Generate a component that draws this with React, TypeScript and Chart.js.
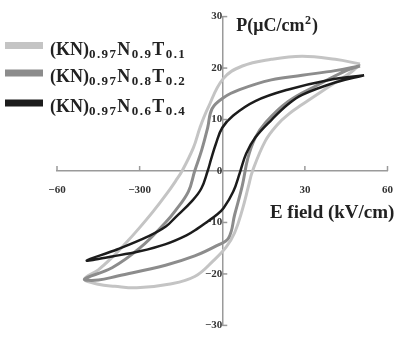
import React, { useEffect, useRef } from 'react';
import { Chart, registerables } from 'chart.js';

Chart.register(...registerables);

// Legend labels: alternating [main, subscript, main, subscript, ...]
const seriesLabels: string[][] = [
  ['(KN)', '0.97', 'N', '0.9', 'T', '0.1'],
  ['(KN)', '0.97', 'N', '0.8', 'T', '0.2'],
  ['(KN)', '0.97', 'N', '0.6', 'T', '0.4'],
];
const seriesColors = ['#c4c4c4', '#8c8c8c', '#1c1c1c'];

// (KN)0.97N0.9T0.1 loop: upper branch (+Emax -> -Emax), then lower branch back
const lightE = [50, 41, 29, 17.8, 7.3, 0.3, -5.3, -8.1, -10.5, -14.6, -17, -20, -25, -30, -35, -40, -45, -50, -45, -39, -31, -19.5, -10, -3, 1.4, 4.5, 7.3, 9.5, 11, 15.7, 20, 24, 29, 38.8, 47, 50];
const lightP = [20.8, 21.7, 22.3, 21.7, 20.4, 17.9, 12.1, 8.4, 4.5, 0, -2, -4.3, -7.8, -11, -14, -16.8, -19.2, -21, -22, -22.4, -22.7, -22, -20.5, -17.3, -14.8, -12, -7.5, -3, 0, 5.9, 9, 11, 12.9, 16.4, 19.3, 20.8];

// (KN)0.97N0.8T0.2
const midE = [50, 41, 29, 17.8, 6.3, 0.3, -3.7, -5.3, -7.5, -10, -12.3, -17, -20.6, -30, -40, -50, -45, -38, -20.6, -10, -2, 2.3, 4.5, 7.3, 9.3, 12, 15.4, 23.7, 35, 45, 50];
const midP = [20.4, 19.5, 18.6, 17.7, 15.8, 14.2, 12.1, 8.4, 4, 0, -4, -7.7, -10, -15, -18.8, -21, -21.2, -20.4, -18.3, -16.5, -14.5, -13, -8.5, -2.8, 2.5, 6.5, 9.2, 13.4, 16.8, 19.5, 20.4];

// (KN)0.97N0.6T0.4
const darkE = [51.5, 38.8, 23.7, 12, 4, 0, -2.3, -4.1, -5.3, -7.6, -11.1, -17, -20.5, -26.5, -38, -49.2, -40, -30, -20.5, -13, -9, -5.3, -2, 0.5, 4, 6.4, 8.7, 12, 18, 24, 29, 41, 51.5];
const darkP = [18.6, 17.7, 15.8, 13.6, 10.8, 8.4, 5.3, 2.2, 0, -3.4, -5.9, -9, -10.8, -12.6, -15.2, -17.4, -16.6, -15.6, -14.2, -12.5, -11.2, -9.8, -8.5, -7.2, -4, -0.3, 3.4, 6.5, 10, 13, 14.8, 17.2, 18.6];

const xTickValues = [-60, -30, 30, 60];
const xTickLabels = ['\u221260', '\u2212300', '30', '60'];
const yTickValues = [-30, -20, -10, 0, 10, 20, 30];
const yTickLabels = ['\u221230', '\u221220', '\u221210', '0', '10', '20', '30'];

const xTitle = 'E field (kV/cm)';
const yTitleParts = ['P(\u03bcC/cm', '2', ')'];

const SERIF = '"Liberation Serif", "Times New Roman", serif';
const AXIS_COLOR = '#9a9a9a';

const toPoints = (xs: number[], ys: number[]) => xs.map((x, i) => ({ x, y: ys[i] }));

const drawSpaced = (ctx: CanvasRenderingContext2D, text: string, x: number, y: number, spacing: number) => {
  let cx = x;
  for (const ch of text) {
    ctx.fillText(ch, cx, y);
    cx += ctx.measureText(ch).width + spacing;
  }
  return cx - x;
};

const overlayPlugin = {
  id: 'overlay',
  afterDraw(chart: any) {
    const ctx: CanvasRenderingContext2D = chart.ctx;
    const xs = chart.scales.x;
    const ys = chart.scales.y;
    const x0 = xs.getPixelForValue(0);
    const y0 = ys.getPixelForValue(0);
    ctx.save();
    // inward tick marks
    ctx.strokeStyle = AXIS_COLOR;
    ctx.lineWidth = 1.5;
    xs.ticks.forEach((t: any) => {
      if (t.value === 0) return;
      const px = xs.getPixelForValue(t.value);
      ctx.beginPath();
      ctx.moveTo(px, y0);
      ctx.lineTo(px, y0 - 5);
      ctx.stroke();
    });
    ys.ticks.forEach((t: any) => {
      if (t.value === 0) return;
      const py = ys.getPixelForValue(t.value);
      ctx.beginPath();
      ctx.moveTo(x0, py);
      ctx.lineTo(x0 + 5, py);
      ctx.stroke();
    });

    // axis titles
    ctx.fillStyle = '#222';
    ctx.textBaseline = 'alphabetic';
    ctx.textAlign = 'left';
    let tx = x0 + 14;
    const tyBase = ys.getPixelForValue(30) + 14;
    ctx.font = `bold 18px ${SERIF}`;
    ctx.fillText(yTitleParts[0], tx, tyBase);
    tx += ctx.measureText(yTitleParts[0]).width;
    ctx.font = `bold 12px ${SERIF}`;
    ctx.fillText(yTitleParts[1], tx + 0.5, tyBase - 7);
    tx += ctx.measureText(yTitleParts[1]).width + 1.5;
    ctx.font = `bold 18px ${SERIF}`;
    ctx.fillText(yTitleParts[2], tx, tyBase);

    ctx.font = `bold 19px ${SERIF}`;
    ctx.fillText(xTitle, xs.getPixelForValue(17.3), y0 + 47);

    // legend
    const rowY = [45.5, 73, 103];
    chart.data.datasets.forEach((ds: any, i: number) => {
      const cy = rowY[i];
      ctx.fillStyle = ds.borderColor;
      ctx.fillRect(5, cy - 3.5, 38, 7);
      let lx = 50;
      const base = cy + 9;
      ctx.fillStyle = '#222';
      seriesLabels[i].forEach((part, k) => {
        const sub = k % 2 === 1;
        if (sub) {
          ctx.font = `bold 13px ${SERIF}`;
          lx += drawSpaced(ctx, part, lx, base + 3, 1.4);
        } else {
          ctx.font = `bold 18px ${SERIF}`;
          ctx.fillText(part, lx, base);
          lx += ctx.measureText(part).width + (k > 0 ? 1.5 : 0);
        }
      });
    });
    ctx.restore();
  },
};

export default function App() {
  const canvasRef = useRef<HTMLCanvasElement | null>(null);

  useEffect(() => {
    const canvas = canvasRef.current;
    if (!canvas) return;
    const tickFont = { family: SERIF, size: 11, weight: 'bold' as const };
    const chart = new Chart(canvas, {
      type: 'scatter',
      data: {
        datasets: [
          { label: seriesLabels[0].join(''), data: toPoints(lightE, lightP), borderColor: seriesColors[0], backgroundColor: seriesColors[0], borderWidth: 3, order: 2 },
          { label: seriesLabels[1].join(''), data: toPoints(midE, midP), borderColor: seriesColors[1], backgroundColor: seriesColors[1], borderWidth: 3, order: 1 },
          { label: seriesLabels[2].join(''), data: toPoints(darkE, darkP), borderColor: seriesColors[2], backgroundColor: seriesColors[2], borderWidth: 2.5, order: 0 },
        ].map((d) => ({ ...d, showLine: true, tension: 0.4, pointRadius: 0, fill: false })),
      },
      options: {
        responsive: false,
        animation: false,
        devicePixelRatio: 1,
        layout: { padding: { left: 57, right: 6, top: 14.5, bottom: 6 } },
        plugins: { legend: { display: false }, tooltip: { enabled: false } },
        scales: {
          x: {
            type: 'linear',
            min: -60,
            max: 60,
            position: { y: 0 } as any,
            grid: { drawOnChartArea: false, drawTicks: false },
            border: { color: AXIS_COLOR, width: 1.5 },
            ticks: {
              stepSize: 30,
              padding: 13,
              color: '#333',
              font: tickFont,
              maxRotation: 0,
              callback: (v: any) => {
                const idx = xTickValues.indexOf(Number(v));
                return idx >= 0 ? xTickLabels[idx] : '';
              },
            },
          },
          y: {
            type: 'linear',
            min: -30,
            max: 30,
            position: { x: 0 } as any,
            grid: { drawOnChartArea: false, drawTicks: false },
            border: { color: AXIS_COLOR, width: 1.5 },
            ticks: {
              stepSize: 10,
              padding: 10,
              color: '#333',
              font: tickFont,
              callback: (v: any) => {
                const idx = yTickValues.indexOf(Number(v));
                return idx >= 0 ? yTickLabels[idx] : '';
              },
            },
          },
        },
      },
      plugins: [overlayPlugin],
    });
    return () => chart.destroy();
  }, []);

  return (
    <div style={{ position: 'absolute', left: 0, top: 0, width: 406, height: 342, background: '#fff' }}>
      <canvas ref={canvasRef} width={406} height={342} style={{ display: 'block' }} />
    </div>
  );
}
